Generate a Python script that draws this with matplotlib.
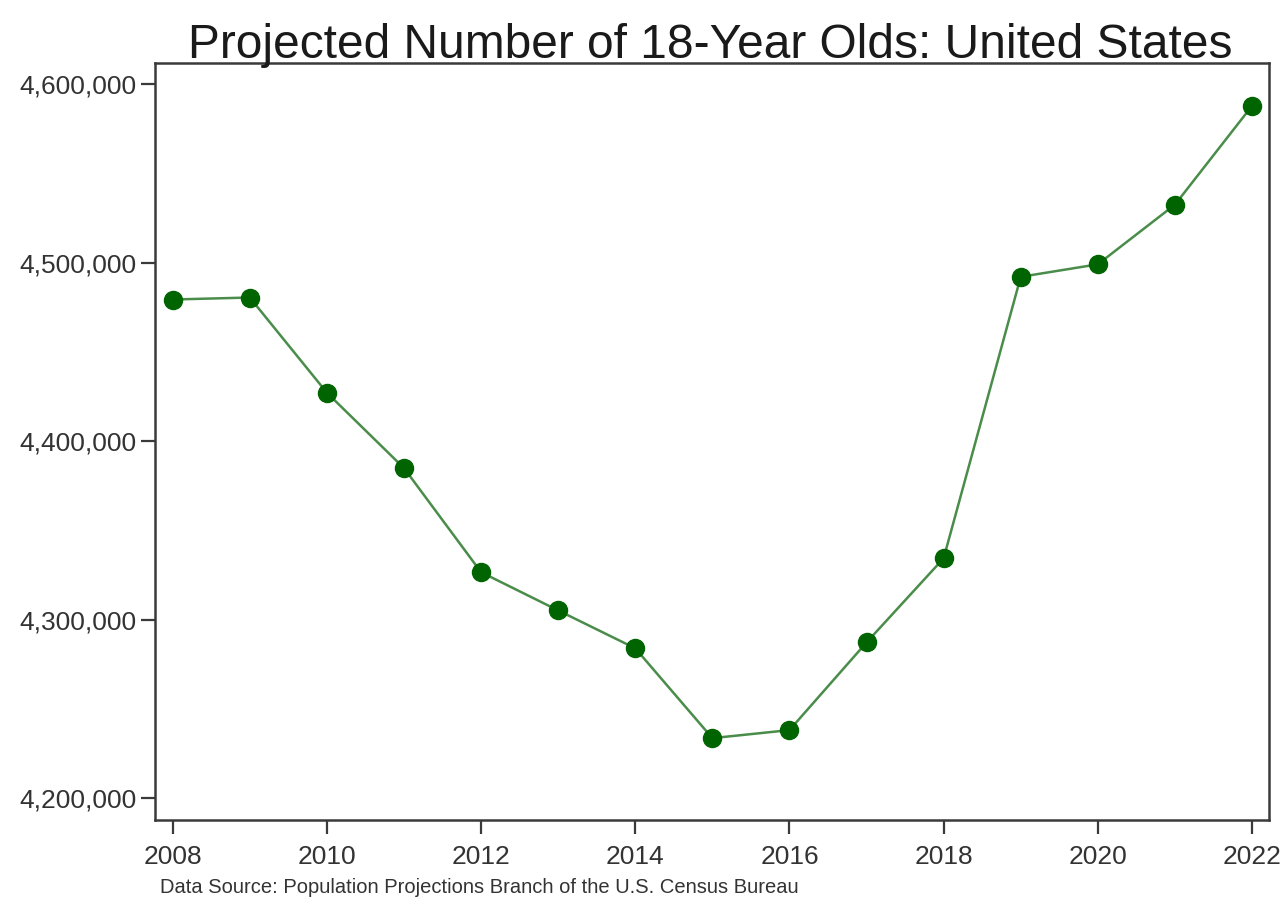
import matplotlib
matplotlib.use("Agg")
import matplotlib.pyplot as plt
from matplotlib.ticker import FuncFormatter

# projected 18-year-old population, United States
years = [2008, 2009, 2010, 2011, 2012, 2013, 2014, 2015,
         2016, 2017, 2018, 2019, 2020, 2021, 2022]
population = [4479300, 4480400, 4427100, 4384900, 4326600, 4305200, 4284000, 4233700,
              4238200, 4287300, 4334400, 4492000, 4499000, 4532400, 4587700]

x_ticks = [2008, 2010, 2012, 2014, 2016, 2018, 2020, 2022]
y_ticks = [4200000, 4300000, 4400000, 4500000, 4600000]

plt.rcParams['font.family'] = ['Liberation Sans', 'DejaVu Sans']

fig = plt.figure(figsize=(12.84, 9.07), dpi=100)
ax = fig.add_axes([0.1207, 0.0954, 0.8676, 0.8351])

ax.plot(years, population, color='#4a8c4a', linewidth=1.8,
        marker='o', markersize=13, markerfacecolor='#006400',
        markeredgecolor='#006400', zorder=3)

ax.set_xlim(2007.77, 2022.22)
ax.set_ylim(4187600, 4611700)
ax.set_xticks(x_ticks)
ax.set_yticks(y_ticks)
ax.yaxis.set_major_formatter(FuncFormatter(lambda v, p: f"{int(v):,}"))

for s in ax.spines.values():
    s.set_color('#3a3a3a')
    s.set_linewidth(1.8)
ax.tick_params(axis='both', direction='out', length=10, width=1.6,
               color='#3a3a3a', labelcolor='#333333', labelsize=19)
ax.tick_params(axis='y', pad=3)
ax.tick_params(axis='x', pad=8)

fig.text(0.5535, 0.975, 'Projected Number of 18-Year Olds: United States',
         ha='center', va='top', fontsize=34.5, color='#1a1a1a')
fig.text(0.1245, 0.022, 'Data Source: Population Projections Branch of the U.S. Census Bureau',
         ha='left', va='center', fontsize=14.5, color='#333333')

fig.savefig('out.png', dpi=100)
